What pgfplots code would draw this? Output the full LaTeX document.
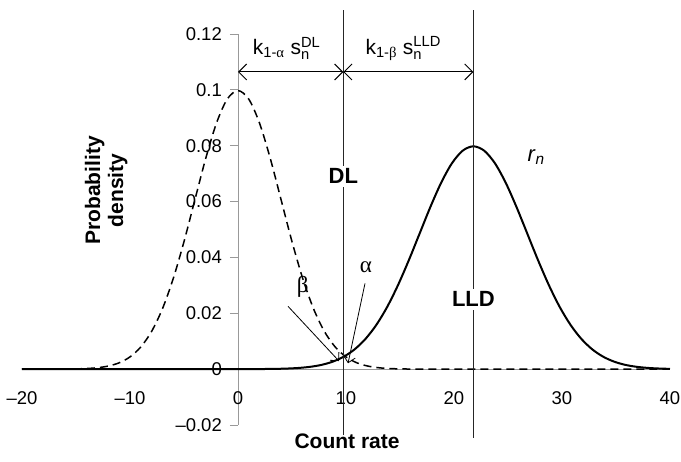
\documentclass[border=0pt]{standalone}
\usepackage{pgfplots}
\pgfplotsset{compat=1.18}
\usepackage{amsmath}
\usepackage{fontspec}
\setmainfont{Liberation Sans}
\newfontfamily\greekfont{Liberation Serif}
\usetikzlibrary{arrows.meta}
\begin{document}
\fontsize{18}{21}\selectfont
\begin{tikzpicture}
\begin{axis}[
  scale only axis, width=648pt, height=391pt,
  xmin=-20, xmax=40, ymin=-0.02, ymax=0.12,
  axis lines=middle,
  axis line style={black!40, line width=0.8pt, -},
  hide obscured x ticks=false, hide obscured y ticks=false,
  xtick={-20,-10,0,10,20,30,40},
  xticklabels={--20,--10,0,10,20,30,40},
  ytick={-0.02,0,0.02,0.04,0.06,0.08,0.1,0.12},
  yticklabels={--0.02,0,0.02,0.04,0.06,0.08,0.1,0.12},
  xtick style={draw=none},
  ytick style={black!40, line width=0.8pt},
  major tick length=8pt,
  tick align=outside,
  xticklabel style={anchor=north, yshift=-8pt, font=\fontsize{18.5}{21}\selectfont},
  yticklabel style={anchor=east, xshift=-2pt, font=\fontsize{18.5}{21}\selectfont},
  clip=false,
]
% dashed distribution (background)
\addplot[black, line width=1.5pt, dash pattern=on 8pt off 5pt, smooth] coordinates {
(-20,0) (-19,0.00001) (-18,0.00001) (-17,0.00001) (-16,0.00003) (-15,0.00009) (-14,0.00022) (-13,0.00051)
(-12,0.00111) (-11,0.00227) (-10,0.00438) (-9,0.00794) (-8,0.01350) (-7,0.02157) (-6,0.03238)
(-5,0.04566) (-4,0.06050) (-3,0.07529) (-2,0.08802) (-1,0.09667) (0,0.09974)
(1,0.09667) (2,0.08802) (3,0.07529) (4,0.06050) (5,0.04566) (6,0.03238) (7,0.02157)
(8,0.01350) (9,0.00794) (10,0.00438) (11,0.00227) (12,0.00111) (13,0.00051) (14,0.00022)
(15,0.00009) (16,0.00003) (17,0.00001) (18,0.00001) (19,0) (20,0) (25,0) (30,0) (35,0) (40,0)
};
% solid distribution r_n
\addplot[black, line width=2pt, smooth] coordinates {
(-20,0) (-10,0) (-4,0) (-0.2,0.00001) (0.8,0.00001) (1.8,0.00003) (2.8,0.00006) (3.8,0.00012)
(4.8,0.00025) (5.8,0.00048) (6.8,0.00089) (7.8,0.00158) (8.8,0.00272) (9.8,0.00448)
(10.8,0.00709) (11.8,0.01080) (12.8,0.01579) (13.8,0.02218) (14.8,0.02995) (15.8,0.03884)
(16.8,0.04839) (17.8,0.05794) (18.8,0.06665) (19.8,0.07366) (20.8,0.07821) (21.8,0.07979)
(22.8,0.07821) (23.8,0.07366) (24.8,0.06665) (25.8,0.05794) (26.8,0.04839) (27.8,0.03884)
(28.8,0.02995) (29.8,0.02218) (30.8,0.01579) (31.8,0.01080) (32.8,0.00709) (33.8,0.00448)
(34.8,0.00272) (35.8,0.00158) (36.8,0.00089) (37.8,0.00048) (38.8,0.00025) (39.8,0.00012) (40,0.0001)
};
% DL and LLD lines
\addplot[black!85, line width=1.1pt] coordinates {(9.75,-0.0236) (9.75,0.1286)};
\addplot[black!85, line width=1.1pt] coordinates {(21.8,-0.0245) (21.8,0.1286)};
\node[fill=white, font=\fontsize{22}{26}\selectfont\bfseries, inner sep=3pt] at (axis cs:9.75,0.069) {DL};
\node[fill=white, font=\fontsize{22}{26}\selectfont\bfseries, inner sep=3pt] at (axis cs:21.8,0.025) {LLD};
% k arrows
\draw[{Straight Barb[length=8pt,width=16pt]}-{Straight Barb[length=8pt,width=16pt]}, line width=1pt]
  (axis cs:0,0.1064) -- (axis cs:9.75,0.1064);
\draw[{Straight Barb[length=8pt,width=16pt]}-{Straight Barb[length=8pt,width=16pt]}, line width=1pt]
  (axis cs:9.75,0.1064) -- (axis cs:21.8,0.1064);
\node[font=\fontsize{21}{24}\selectfont] at (axis cs:4.5,0.1148) {k$_{\text{1-{\greekfont α}}}$ s$_{\text{n}}^{\text{DL}}$};
\node[font=\fontsize{21}{24}\selectfont] at (axis cs:15.3,0.1148) {k$_{\text{1-{\greekfont β}}}$ s$_{\text{n}}^{\text{LLD}}$};
% alpha / beta
\draw[-{Straight Barb[length=6pt,width=12pt]}, line width=0.8pt] (axis cs:11.76,0.0307) -- (axis cs:10.19,0.0021);
\draw[-{Straight Barb[length=6pt,width=12pt]}, line width=0.8pt] (axis cs:4.63,0.0225) -- (axis cs:9.35,0.0029);
\node[font=\fontsize{23}{26}\selectfont] at (axis cs:11.85,0.0365) {\greekfont α};
\node[font=\fontsize{23}{26}\selectfont] at (axis cs:6.0,0.0295) {\greekfont β};
\node[font=\fontsize{22}{26}\selectfont] at (axis cs:27.6,0.076) {\textit{r}$_{\textit{n}}$};
% axis titles
\node[font=\fontsize{21}{24}\selectfont\bfseries] at (axis cs:10.1,-0.0257) {Count rate};
\node[font=\fontsize{21}{23}\selectfont\bfseries, rotate=90, align=center] at (axis cs:-12.2,0.064) {Probability\\density};
\end{axis}
\pgfresetboundingbox
\path (-22pt,-37pt) rectangle (659pt,425pt);
\end{tikzpicture}
\end{document}
